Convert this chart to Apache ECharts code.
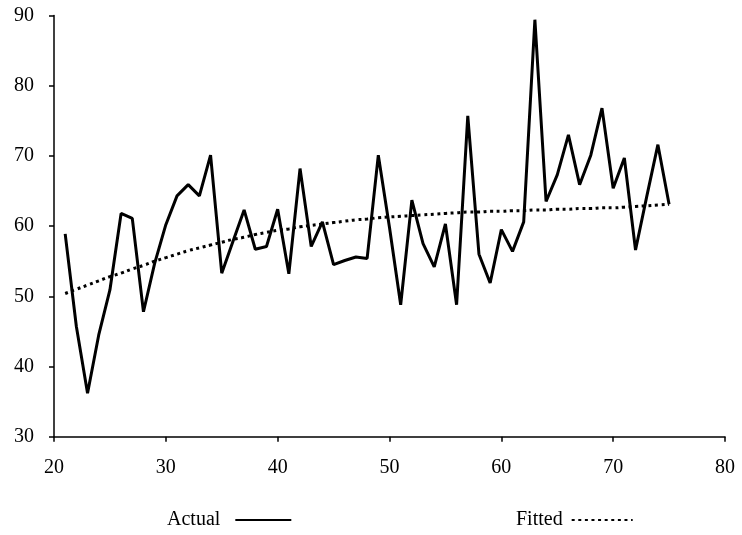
<!DOCTYPE html>
<html>
<head>
<meta charset="utf-8">
<script src="https://cdn.jsdelivr.net/npm/echarts@6/dist/echarts.min.js"></script>
<style>html,body{margin:0;padding:0;background:#fff;}#c{width:742px;height:535px;}</style>
</head>
<body>
<div id="c"></div>
<script>
var xValues = [21,22,23,24,25,26,27,28,29,30,31,32,33,34,35,36,37,38,39,40,41,42,43,44,45,46,47,48,49,50,51,52,53,54,55,56,57,58,59,60,61,62,63,64,65,66,67,68,69,70,71,72,73,74,75];
var actual = [58.9,45.7,36.2,44.5,50.9,61.8,61.1,47.8,54.7,60.2,64.3,65.9,64.3,70.1,53.3,57.8,62.3,56.7,57.1,62.4,53.2,68.2,57.1,60.6,54.5,55.1,55.6,55.4,70.1,59.8,48.8,63.7,57.5,54.2,60.3,48.8,75.7,56.0,51.9,59.5,56.4,60.6,89.4,63.5,67.3,73.0,65.9,70.1,76.8,65.4,69.7,56.6,64.2,71.6,63.1];
var fitted = [50.4,51.0,51.6,52.2,52.8,53.3,53.9,54.4,55.0,55.5,56.0,56.5,56.9,57.3,57.7,58.1,58.4,58.8,59.1,59.4,59.6,59.9,60.1,60.3,60.5,60.7,60.9,61.0,61.2,61.3,61.4,61.5,61.6,61.7,61.8,61.9,62.0,62.0,62.1,62.1,62.2,62.2,62.3,62.3,62.4,62.4,62.5,62.5,62.6,62.6,62.7,62.8,62.9,63.0,63.1];
var xTicks = {min: 20, max: 80, interval: 10};
var yTicks = {min: 30, max: 90, interval: 10};

var font = 'Liberation Serif';
function pairs(ys){ return xValues.map(function(x,i){ return [x, ys[i]]; }); }

var chart = echarts.init(document.getElementById('c'));
var axisCommon = {
  type: 'value',
  axisLine: {show: true, onZero: false, lineStyle: {color: '#000', width: 1.5}},
  axisTick: {show: true, inside: false, length: 5, lineStyle: {color: '#000', width: 1.5}},
  splitLine: {show: false},
  axisLabel: {color: '#000', fontFamily: font, fontSize: 20}
};
chart.setOption({
  animation: false,
  backgroundColor: '#fff',
  grid: {left: 54, right: 17, top: 15.5, bottom: 98.3, containLabel: false},
  xAxis: echarts.util.merge({min: xTicks.min, max: xTicks.max, interval: xTicks.interval,
    axisLabel: {margin: 21}}, axisCommon),
  yAxis: echarts.util.merge({min: yTicks.min, max: yTicks.max, interval: yTicks.interval,
    axisLabel: {margin: 20}}, axisCommon),
  legend: [
    {data: ['Actual'], left: 162, top: 505, align: 'right', itemWidth: 56, itemHeight: 20,
     itemStyle: {opacity: 0},
     textStyle: {color: '#000', fontFamily: font, fontSize: 20, padding: [0, 10, 0, 0]}},
    {data: ['Fitted'], left: 511, top: 505, align: 'right', itemWidth: 61, itemHeight: 20,
     itemStyle: {opacity: 0},
     textStyle: {color: '#000', fontFamily: font, fontSize: 20, padding: [0, 4, 0, 0]}}
  ],
  series: [
    {name: 'Actual', type: 'line', data: pairs(actual), symbol: 'none',
     lineStyle: {color: '#000', width: 3}, itemStyle: {color: '#000'}},
    {name: 'Fitted', type: 'line', data: pairs(fitted), symbol: 'none', smooth: true,
     lineStyle: {color: '#000', width: 3, type: [3, 3.6]}, itemStyle: {color: '#000'}}
  ]
});
</script>
</body>
</html>
